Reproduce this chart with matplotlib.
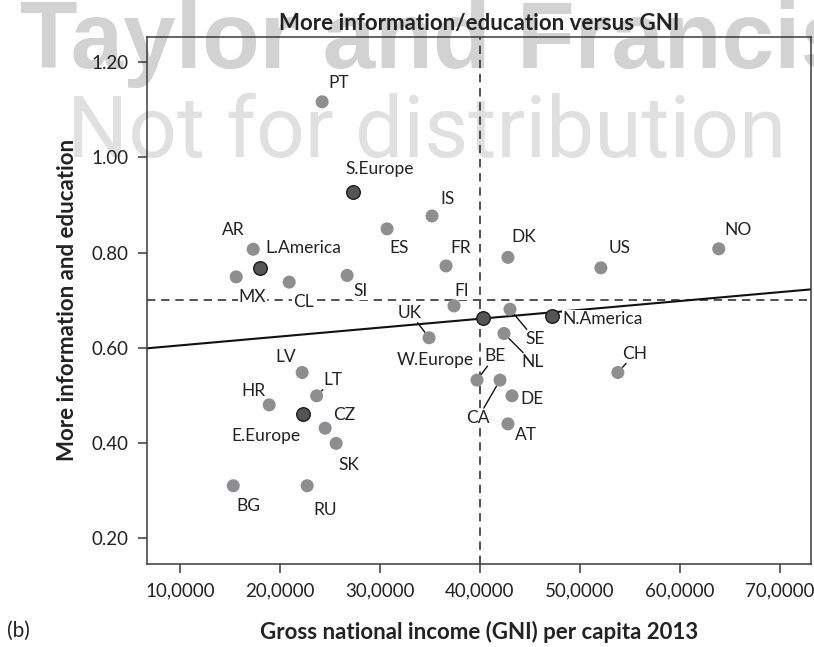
import matplotlib
matplotlib.use("Agg")
import matplotlib.pyplot as plt

plt.rcParams['font.family'] = ['Lato', 'DejaVu Sans']

# country scores: GNI per capita 2013 vs preference for more information/education
countries = ['PT', 'ES', 'IS', 'FR', 'DK', 'US', 'NO', 'AR', 'MX', 'CL', 'SI',
             'FI', 'UK', 'SE', 'NL', 'BE', 'CA', 'DE', 'AT', 'CH',
             'LV', 'LT', 'HR', 'CZ', 'SK', 'BG', 'RU']
gni = [24200, 30700, 35200, 36600, 42800, 52100, 63900, 17300, 15600, 20900, 26700,
       37400, 34900, 43000, 42400, 39700, 42000, 43200, 42800, 53800,
       22200, 23650, 18900, 24500, 25600, 15300, 22700]
info_edu = [1.117, 0.850, 0.877, 0.772, 0.790, 0.768, 0.808, 0.807, 0.749, 0.738, 0.752,
            0.688, 0.621, 0.681, 0.630, 0.532, 0.532, 0.499, 0.440, 0.548,
            0.548, 0.499, 0.480, 0.431, 0.399, 0.310, 0.310]

# regional averages
regions = ['S.Europe', 'L.America', 'W.Europe', 'N.America', 'E.Europe']
region_gni = [27300, 18000, 40300, 47200, 22300]
region_info = [0.928, 0.768, 0.662, 0.667, 0.460]

# linear fit and reference lines
fit_intercept = 0.5864
fit_slope = 1.864e-6
gni_split = 40000
info_split = 0.70

xticks = [10000, 20000, 30000, 40000, 50000, 60000, 70000]
xtick_labels = ['10,0000', '20,0000', '30,0000', '40,0000', '50,0000', '60,0000', '70,0000']
yticks = [0.20, 0.40, 0.60, 0.80, 1.00, 1.20]
ytick_labels = ['0.20', '0.40', '0.60', '0.80', '1.00', '1.20']

# label placement, offset in pixels from the marker
label_offsets = {
    'PT': (17, 19), 'ES': (12, -19), 'IS': (15, 17), 'FR': (15, 18), 'DK': (16, 20),
    'US': (19, 20), 'NO': (19, 19), 'AR': (-20, 19), 'MX': (16, -20), 'CL': (14, -20),
    'SI': (13, -16), 'FI': (8, 15), 'UK': (-19, 25), 'SE': (25, -30), 'NL': (29, -29),
    'BE': (18, 24), 'CA': (-22, -38), 'DE': (20, -3), 'AT': (18, -11), 'CH': (17, 19),
    'LV': (-16, 16), 'LT': (16, 16), 'HR': (-16, 14), 'CZ': (19, 13), 'SK': (13, -22),
    'BG': (15, -20), 'RU': (18, -24),
    'S.Europe': (27, 23), 'L.America': (43, 20), 'W.Europe': (-48, -42),
    'N.America': (51, -3), 'E.Europe': (-37, -22),
}
with_leader = {'UK', 'SE', 'NL', 'BE', 'CA', 'CH', 'LT'}

W, H = 814, 647
fig = plt.figure(figsize=(W / 100, H / 100), dpi=100)

# background watermark
fig.text(20 / W, 1 - 68 / H, 'Taylor and Francis', fontsize=68, fontweight='bold',
         family='Liberation Sans', color='#d2d2d2', ha='left', va='baseline', zorder=-2)
wm = fig.text(67 / W, 1 - 157 / H, 'Not for distribution', fontsize=64,
              family='Roboto', fontweight='normal', color='#e0e0e0',
              ha='left', va='baseline', zorder=-2)

ax = fig.add_axes([146.7 / W, 1 - 564 / H, (811.3 - 146.7) / W, (564 - 36.7) / H])
ax.set_facecolor('none')
ax.set_xlim(6640, 73160)
ax.set_ylim(0.1455, 1.2538)

ax.axvline(gni_split, color='#333333', lw=1.2, ls=(0, (5, 3.5)), zorder=1)
ax.axhline(info_split, color='#333333', lw=1.2, ls=(0, (5, 3.5)), zorder=1)
fit_x = [6640, 73160]
fit_y = [fit_intercept + fit_slope * v for v in fit_x]
ax.plot(fit_x, fit_y, color='#111111', lw=1.5, zorder=2)

ax.scatter(gni, info_edu, s=88, color='#8e8e90', edgecolor='none', zorder=5)
ax.scatter(region_gni, region_info, s=95, color='#555555', edgecolor='#1a1a1a',
           linewidth=1.0, zorder=6)

for name, x, y in list(zip(countries, gni, info_edu)) + list(zip(regions, region_gni, region_info)):
    arrow = None
    if name in with_leader:
        arrow = dict(arrowstyle='-', color='#111111', lw=1.0, shrinkA=1, shrinkB=5)
    ax.annotate(name, (x, y), xytext=label_offsets[name], textcoords='offset pixels',
                ha='center', va='center', fontsize=12.5, color='#222222', zorder=4,
                bbox=dict(boxstyle='square,pad=0.05', fc='white', ec='none'),
                arrowprops=arrow)

ax.set_xticks(xticks, xtick_labels)
ax.set_yticks(yticks, ytick_labels)
ax.tick_params(axis='both', direction='out', length=6.5, width=1.1, color='#3a3a3a',
               labelsize=13.5, labelcolor='#222222')
ax.tick_params(axis='x', pad=6.5)
ax.tick_params(axis='y', pad=6.5)
for sp in ax.spines.values():
    sp.set_color('#3a3a3a')
    sp.set_linewidth(1.1)

ax.set_title('More information/education versus GNI', fontsize=16, fontweight='bold',
             color='#222222', pad=5)
ax.set_xlabel('Gross national income (GNI) per capita 2013', fontsize=16,
              fontweight='bold', color='#222222', labelpad=16)
ax.set_ylabel('More information and education', fontsize=16, fontweight='bold',
              color='#222222', labelpad=10)
fig.text(7 / W, 1 - 631 / H, '(b)', fontsize=15, color='#222222', ha='left', va='center')

# stretch the watermark line across the page width
fig.canvas.draw()
w = wm.get_window_extent(fig.canvas.get_renderer()).width
wm.set_fontsize(wm.get_fontsize() * 720 / w)

fig.savefig('out.png', dpi=100)
